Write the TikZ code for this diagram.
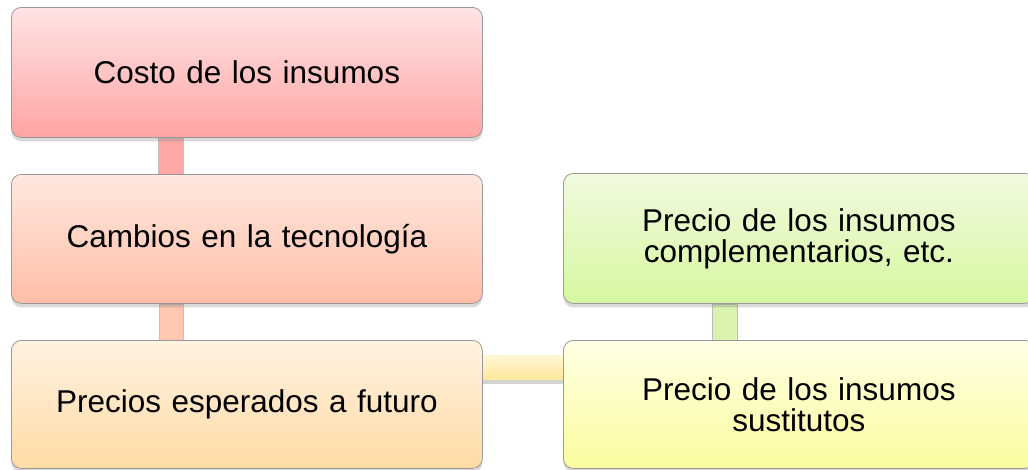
\documentclass[tikz,border=0pt]{standalone}
\usepackage{fontspec}
\setmainfont{Liberation Sans}
\usetikzlibrary{shadows,backgrounds}
\definecolor{rAt}{HTML}{FFE4E4}\definecolor{rAb}{HTML}{FFA4A4}
\definecolor{rBt}{HTML}{FFE8E0}\definecolor{rBb}{HTML}{FFBEA6}
\definecolor{rCt}{HTML}{FFF2E1}\definecolor{rCb}{HTML}{FFDBA5}
\definecolor{gDt}{HTML}{F1FADF}\definecolor{gDb}{HTML}{D6F8A0}
\definecolor{yEt}{HTML}{FFFFE4}\definecolor{yEb}{HTML}{FCFC9E}
\definecolor{cA}{HTML}{FFA8A8}
\definecolor{cB}{HTML}{FFC6B0}
\definecolor{cG}{HTML}{D9F2AE}
\definecolor{cHt}{HTML}{FFF6D6}\definecolor{cHb}{HTML}{FFE89C}
\begin{document}
\begin{tikzpicture}[x=1pt,y=-1pt,
  box/.style={rectangle, rounded corners=10pt, draw=black!40, line width=0.8pt,
    minimum width=471pt, inner sep=0pt, text width=450pt, align=center,
    font=\fontsize{31.5pt}{31pt}\selectfont, anchor=north west,
    drop shadow={shadow xshift=0pt, shadow yshift=-4pt, opacity=0.3}},
  conn/.style={draw=black!25, line width=0.6pt}]
\useasboundingbox (0,0) rectangle (1028,469);
\node[box, minimum height=130pt, top color=rAt, bottom color=rAb] (b1) at (11,7) {Costo de los insumos};
\node[box, minimum height=129pt, top color=rBt, bottom color=rBb] (b2) at (11,174) {Cambios en la tecnología};
\node[box, minimum height=128pt, top color=rCt, bottom color=rCb] (b3) at (11,340) {Precios esperados a futuro};
\node[box, minimum height=130pt, top color=gDt, bottom color=gDb] (b4) at (563,173) {Precio de los insumos\\complementarios, etc.};
\node[box, minimum height=128pt, top color=yEt, bottom color=yEb] (b5) at (563,340) {Precio de los insumos\\sustitutos};
\begin{scope}[on background layer]
\filldraw[conn, fill=cA] ([xshift=147pt]b1.south west) rectangle ([xshift=172pt]b2.north west);
\filldraw[conn, fill=cB] ([xshift=148pt]b2.south west) rectangle ([xshift=172pt]b3.north west);
\filldraw[conn, fill=cG] ([xshift=149pt]b4.south west) rectangle ([xshift=174pt]b5.north west);
\path[top color=cHt, bottom color=cHb, drop shadow={shadow xshift=0pt, shadow yshift=-5pt, opacity=0.35}]
  ([yshift=-15pt]b3.north east) rectangle ([yshift=-39pt]b5.north west);
\end{scope}
\end{tikzpicture}
\end{document}
